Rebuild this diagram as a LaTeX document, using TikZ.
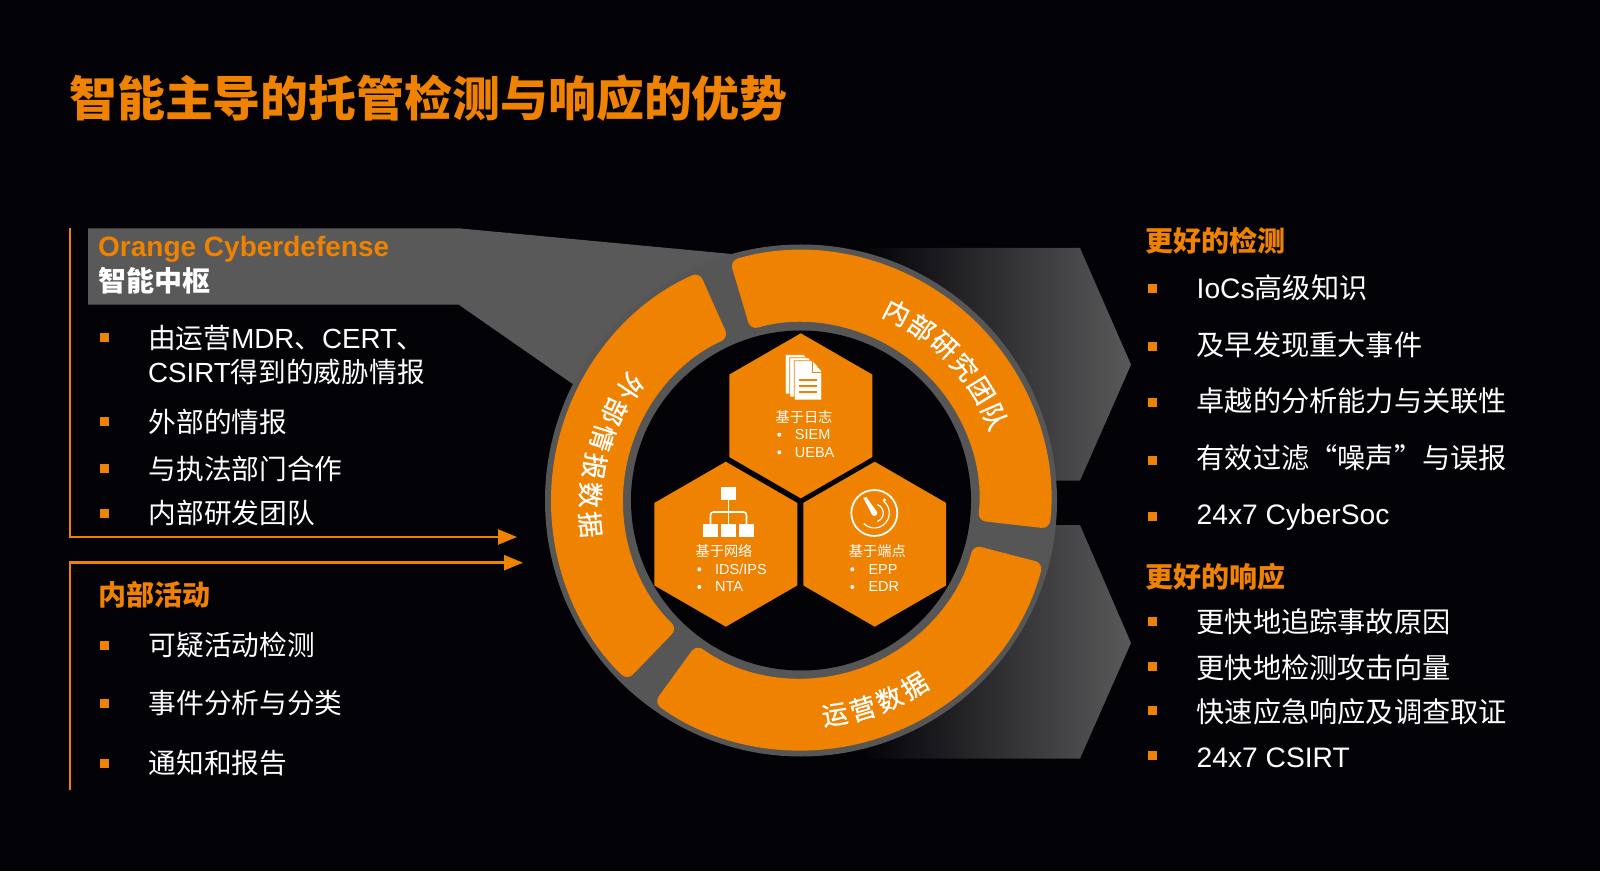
\documentclass[tikz,border=0pt]{standalone}
\usepackage{fontspec}
\setmainfont{Liberation Sans}
\newfontfamily\cjk{Noto Sans CJK SC}
\newfontfamily\cjkarc[FakeBold=0.8]{Noto Sans CJK SC}
\usetikzlibrary{arrows.meta,shapes.geometric}
\definecolor{bgblack}{HTML}{020207}
\definecolor{cdorange}{HTML}{EF8200}
\definecolor{ringgray}{HTML}{565656}
\definecolor{hubgray}{HTML}{5A595A}
\newcommand{\zh}[1]{{\cjk #1}}
\newcommand{\ringseg}[2]{\fill[cdorange, rounded corners=8pt] (#1:250) arc[start angle=#1, end angle=#2, radius=250pt] -- (#2:178) arc[start angle=#2, end angle=#1, radius=178pt] -- cycle;}
\tikzset{
  itemtext/.style={anchor=west, inner sep=0pt, text=white, font=\fontsize{27.7}{34}\selectfont},
  sideitem/.style={anchor=west, inner sep=0pt, text=white, font=\fontsize{28.2}{34}\selectfont},
  headtext/.style={anchor=west, inner sep=0pt, text=cdorange, font=\fontsize{28}{34}\selectfont\bfseries},
  sqbullet/.style={fill=cdorange, inner sep=0pt, minimum size=9pt},
  hexcell/.style={regular polygon, regular polygon sides=6, shape border rotate=30, fill=cdorange, minimum size=165pt, inner sep=0pt},
  hexlabel/.style={inner sep=0pt, text=white, font=\fontsize{14.2}{17}\selectfont},
  hexitem/.style={anchor=west, inner sep=0pt, text=white, font=\fontsize{14.5}{17}\selectfont},
  hexdot/.style={circle, fill=white, inner sep=0pt, minimum size=4pt},
  arctext/.style={inner sep=0pt, text=white, font=\fontsize{26}{26}\selectfont\cjkarc},
  flowline/.style={cdorange, line width=2.6pt, -{Triangle[length=19pt,width=15pt]}},
  fadearrow/.style={left color=bgblack, right color=hubgray}
}
\begin{document}
\begin{tikzpicture}[x=1pt,y=1pt]
    \useasboundingbox (0,0) rectangle (1600,871);
    \fill[bgblack] (0,0) rectangle (1600,871);

    % Title
    \node[anchor=west, inner sep=0pt, text=cdorange, font=\fontsize{47.9}{50}\selectfont\bfseries] (title) at (69,773) {\zh{智能主导的托管检测与响应的优势}};

    % Gray shapes behind the wheel
    \fill[hubgray] (88,642.7) -- (458.6,642.7) -- (731.5,617) -- (801,370.5) -- (572,487.5) -- (458.6,566.4) -- (88,566.4) -- cycle;
    \shade[fadearrow] (860,623) -- (1080,623) -- (1131,506.4) -- (1080,390.3) -- (860,390.3) -- cycle;
    \shade[fadearrow] (860,346) -- (1080,346) -- (1131,228) -- (1080,112.4) -- (860,112.4) -- cycle;

    % Wheel
    \begin{scope}[shift={(801,370.5)}]
        \fill[ringgray] (0,0) circle (256);
        \fill[bgblack] (0,0) circle (170);
        \ringseg{106.5}{-6.5}
        \ringseg{-14.5}{-126}
        \ringseg{114}{226}
        \foreach \txt [count=\i] in {内,部,研,究,团,队} {
            \pgfmathsetmacro\ang{63-(\i-1)*7.9}
            \node[arctext, rotate=\ang-90] (research\i) at (\ang:211) {\txt};
        }
        \foreach \txt [count=\i] in {外,部,情,报,数,据} {
            \pgfmathsetmacro\ang{146.5+(\i-1)*8}
            \pgfmathsetmacro\rad{204+\i*1.3}
            \node[arctext, rotate=\ang+90] (intel\i) at (\ang:\rad) {\txt};
        }
        \foreach \txt [count=\i] in {运,营,数,据} {
            \pgfmathsetmacro\ang{-81+(\i-1)*7.5}
            \node[arctext, rotate=\ang+90] (ops\i) at (\ang:217) {\txt};
        }
    \end{scope}

    % Hexagons
    \node[hexcell] (hexlog) at (800.8,455.2) {};
    \node[hexcell] (hexnet) at (725.8,326.8) {};
    \node[hexcell] (hexend) at (874.7,326.8) {};

    \node[hexlabel] (loglabel) at (804,453.7) {\zh{基于日志}};
    \node[hexdot] (logdota) at (779.3,436.3) {};
    \node[hexitem] (logitema) at (794.7,436.3) {SIEM};
    \node[hexdot] (logdotb) at (779.3,418.7) {};
    \node[hexitem] (logitemb) at (794.7,418.7) {UEBA};

    \node[hexlabel] (netlabel) at (724,320) {\zh{基于网络}};
    \node[hexdot] (netdota) at (699.3,301.7) {};
    \node[hexitem] (netitema) at (715,301.7) {IDS/IPS};
    \node[hexdot] (netdotb) at (699.3,284) {};
    \node[hexitem] (netitemb) at (715,284) {NTA};

    \node[hexlabel] (endlabel) at (877.3,320) {\zh{基于端点}};
    \node[hexdot] (enddota) at (852.3,301.7) {};
    \node[hexitem] (enditema) at (868.3,301.7) {EPP};
    \node[hexdot] (enddotb) at (852.3,284) {};
    \node[hexitem] (enditemb) at (868.3,284) {EDR};

    % Log icon
    \foreach \dx/\dy in {-9/6,-4.5/3} {
        \fill[white, draw=cdorange, line width=0.8pt] (794.3+\dx,510.3+\dy) -- (813+\dx,510.3+\dy) -- (821.7+\dx,500+\dy) -- (821.7+\dx,471+\dy) -- (794.3+\dx,471+\dy) -- cycle;
    }
    \fill[white, draw=cdorange, line width=0.8pt] (794.3,510.3) -- (813,510.3) -- (821.7,500) -- (821.7,471) -- (794.3,471) -- cycle;
    \draw[cdorange, line width=0.8pt] (812,510.3) -- (812,499) -- (821.7,499);
    \foreach \yy in {491,485,479} {
        \draw[cdorange, line width=1.6pt] (799,\yy) -- (817,\yy);
    }

    % Network icon
    \draw[white, line width=1.6pt] (728.5,371) -- (728.5,347);
    \draw[white, line width=1.6pt, rounded corners=3pt] (710.5,347) -- (710.5,359) -- (746.5,359) -- (746.5,347);
    \fill[white] (721,371) rectangle (736,384.3);
    \fill[white] (703.3,333.7) rectangle (718.3,347);
    \fill[white] (721,333.7) rectangle (736,347);
    \fill[white] (739,333.7) rectangle (754,347);

    % Radar icon
    \begin{scope}[shift={(874.3,358)}]
        \draw[white, line width=1.8pt] (0,0) circle (23);
        \draw[white, line width=1.2pt] (70:9) arc[start angle=70, end angle=-70, radius=9pt];
        \draw[white, line width=1.2pt] (52:15) arc[start angle=52, end angle=-135, radius=15pt];
        \fill[white] (-11,15) -- (-8,16) -- (2,2) -- (-2,-2) -- cycle;
        \fill[white] (0,0) circle (3);
        \fill[white] (10,13) circle (1.8);
    \end{scope}

    % Left: hub panel
    \node[headtext] (hubname) at (98,621.3) {Orange Cyberdefense};
    \node[anchor=west, inner sep=0pt, text=white, font=\fontsize{28}{34}\selectfont\bfseries] (hubsub) at (98,590) {\zh{智能中枢}};

    \node[sqbullet] (hubdotz) at (104,533.3) {};
    \node[itemtext, align=left] (hubtextz) at (148,516.3) {\zh{由运营}MDR\zh{、}CERT\zh{、}\\CSIRT\zh{得到的威胁情报}};
    \foreach \y/\txt [count=\i] in {449/外部的情报,402/与执法部门合作,358/内部研发团队} {
        \node[sqbullet] (hubdot\i) at (104,\y) {};
        \node[itemtext] (hubtext\i) at (148.5,\y) {\zh{\txt}};
    }

    % Left: internal activities
    \node[headtext] (acthead) at (98,276) {\zh{内部活动}};
    \foreach \y/\txt [count=\i] in {226/可疑活动检测,168/事件分析与分类,108/通知和报告} {
        \node[sqbullet] (actdot\i) at (104,\y) {};
        \node[itemtext] (acttext\i) at (148.5,\y) {\zh{\txt}};
    }

    % Orange brackets
    \coordinate (hubtop) at (70,642.7);
    \coordinate (hubcorner) at (70,334);
    \coordinate (hubtip) at (517,334);
    \coordinate (actbottom) at (70,81);
    \coordinate (actcorner) at (70,308.3);
    \coordinate (acttip) at (523,308.3);
    \draw[flowline] (hubtop) -- (hubcorner) -- (hubtip);
    \draw[flowline] (actbottom) -- (actcorner) -- (acttip);

    % Right: detection
    \node[headtext] (dethead) at (1145,630) {\zh{更好的检测}};
    \foreach \y/\by/\txt [count=\i] in {583/582.2/IoCs\zh{高级知识},526/524/\zh{及早发现重大事件},470/468/\zh{卓越的分析能力与关联性},413/410.8/\zh{有效过滤“噪声”与误报},354/354.7/24x7 CyberSoc} {
        \node[sqbullet] (detdot\i) at (1152,\by) {};
        \node[sideitem] (dettext\i) at (1196.5,\y) {\txt};
    }

    % Right: response
    \node[headtext] (reshead) at (1145,294) {\zh{更好的响应}};
    \foreach \y/\by/\txt [count=\i] in {249.5/249.6/\zh{更快地追踪事故原因},203.5/204.7/\zh{更快地检测攻击向量},159/160.8/\zh{快速应急响应及调查取证},113/116/24x7 CSIRT} {
        \node[sqbullet] (resdot\i) at (1152,\by) {};
        \node[sideitem] (restext\i) at (1196.5,\y) {\txt};
    }
\end{tikzpicture}
\end{document}
